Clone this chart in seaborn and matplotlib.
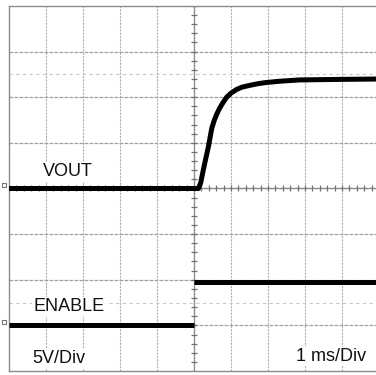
import numpy as np
import pandas as pd
import matplotlib
matplotlib.use("Agg")
import matplotlib.pyplot as plt
import seaborn as sns

# Scope settings
VOLTS_PER_DIV = 5.0
VOUT_OFFSET_DIV = 0.0     # channel 1 ground position (divisions)
ENABLE_OFFSET_DIV = -3.0  # channel 2 ground position (divisions)

# VOUT start-up waveform (time in ms, voltage in V)
vout_t = [-5.0, 0.12, 0.18, 0.25, 0.33, 0.39, 0.48, 0.55, 0.61, 0.68, 0.75, 0.88,
          1.0, 1.15, 1.29, 1.45, 1.56, 1.75, 1.92, 2.3, 2.86, 3.8, 5.0]
vout_v = [0.0, 0.0, 0.6, 2.0, 3.5, 4.6, 6.6, 7.5, 8.1, 8.7, 9.2, 10.0,
          10.45, 10.85, 11.1, 11.25, 11.35, 11.5, 11.6, 11.75, 11.9, 11.95, 12.0]

# ENABLE step (low before the edge, high after it)
enable_low_t = [-5.0, 0.0]
enable_low_v = [0.0, 0.0]
enable_high_t = [0.0, 5.0]
enable_high_v = [4.7, 4.7]

def to_div(v, offset):
    return np.asarray(v, dtype=float) / VOLTS_PER_DIV + offset

sns.set_theme(style="white")
plt.rcParams["font.family"] = ["Liberation Sans", "DejaVu Sans"]

fig = plt.figure(figsize=(3.76, 3.75), dpi=100)
ax = fig.add_axes([9 / 376, 4 / 375, 370 / 376, 365 / 375])
ax.set_xlim(-5, 5)
ax.set_ylim(-4, 4)

# Graticule
for x in range(-4, 5):
    ax.axvline(x, color="#b0b0b0", lw=0.8, ls=(0, (2, 1)), zorder=1)
for y in range(-3, 4):
    ax.axhline(y, color="#a0a0a0", lw=0.9, ls=(0, (3, 1)), zorder=1)
for y in (2.5, -2.5):
    ax.axhline(y, color="#c8c8c8", lw=0.8, ls=(0, (3, 3)), zorder=1)

# Centre axes with minor division ticks
ax.axvline(0, color="#8a8a8a", lw=0.9, zorder=1.5)
ax.axhline(0, color="#8a8a8a", lw=0.9, zorder=1.5)
minor_y = np.arange(-4, 4.01, 0.2)
minor_x = np.arange(-5, 5.01, 0.2)
ax.plot(np.zeros_like(minor_y), minor_y, ls="none", marker="_", ms=4,
        mew=0.9, color="#707070", zorder=1.6)
ax.plot(minor_x, np.zeros_like(minor_x), ls="none", marker="|", ms=4,
        mew=0.9, color="#707070", zorder=1.6)

# Frame
for side, sp in ax.spines.items():
    sp.set_visible(side != "right")
    sp.set_color("#8c8c8c")
    sp.set_linewidth(1.0)
ax.set_xticks([])
ax.set_yticks([])

# Traces
trace_kw = dict(color="black", lw=3.6, estimator=None, sort=False,
                legend=False, zorder=3)
sns.lineplot(x=vout_t, y=to_div(vout_v, VOUT_OFFSET_DIV), ax=ax, **trace_kw)
sns.lineplot(x=enable_low_t, y=to_div(enable_low_v, ENABLE_OFFSET_DIV), ax=ax, **trace_kw)
sns.lineplot(x=enable_high_t, y=to_div(enable_high_v, ENABLE_OFFSET_DIV), ax=ax, **trace_kw)
for line in ax.lines[-3:]:
    line.set_solid_capstyle("butt")
    line.set_solid_joinstyle("round")

# Channel ground markers on the left edge
for off in (VOUT_OFFSET_DIV, ENABLE_OFFSET_DIV):
    ax.plot([-5.13], [off + 0.07], marker="s", ms=3.5, mfc="white",
            mec="#777777", mew=0.8, clip_on=False, zorder=4)

# Labels
box = dict(facecolor="white", edgecolor="none", pad=1.0)
txt_kw = dict(fontsize=13, color="#111111", va="baseline", ha="left", zorder=2, bbox=box)
ax.text(-4.08, 0.27, "VOUT", **txt_kw)
ax.text(-4.35, -2.69, "ENABLE", **txt_kw)
ax.text(-4.38, -3.83, "5V/Div", **txt_kw)
ax.text(2.76, -3.78, "1 ms/Div", **txt_kw)

fig.savefig("out.png", dpi=100, facecolor="white")
